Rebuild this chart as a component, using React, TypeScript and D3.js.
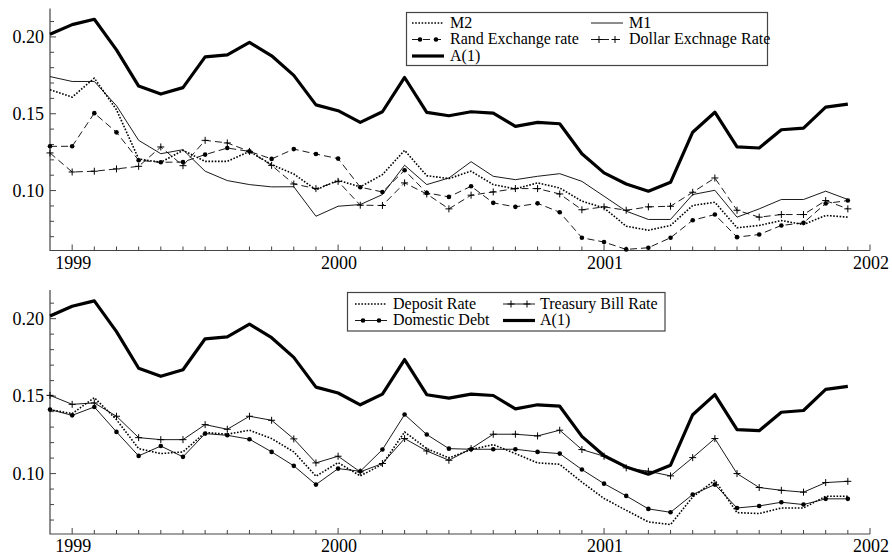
import React from "react";
import * as d3 from "d3";

// monthly observations, Dec 1998 .. Dec 2001 (decimal years)
const startYear = 1998 + 11 / 12;
const nObs = 37;
const times = d3.range(nObs).map((i) => startYear + i / 12);

const yearTicks = [1999, 2000, 2001, 2002];
const yMajor = [0.1, 0.15, 0.2];
const yMinor = [0.07, 0.08, 0.09, 0.1, 0.11, 0.12, 0.13, 0.14, 0.15, 0.16, 0.17, 0.18, 0.19, 0.2, 0.21];

const a1 = [0.2017, 0.208, 0.2115, 0.1916, 0.168, 0.1628, 0.167, 0.187, 0.1883, 0.1965, 0.1877, 0.175,
  0.1558, 0.152, 0.1444, 0.1513, 0.1736, 0.1509, 0.1487, 0.1513, 0.1504, 0.1418, 0.1444, 0.1435,
  0.1240, 0.1115, 0.1043, 0.0996, 0.1054, 0.138, 0.151, 0.1284, 0.1277, 0.1396, 0.1407, 0.1543, 0.1563];
const m1 = [0.1742, 0.171, 0.171, 0.1552, 0.1327, 0.124, 0.1266, 0.1126, 0.1065, 0.1039, 0.1024, 0.1025,
  0.0833, 0.0898, 0.0909, 0.0974, 0.1165, 0.1039, 0.1082, 0.1188, 0.1093, 0.1071, 0.1093, 0.111,
  0.106, 0.0963, 0.0866, 0.0812, 0.0812, 0.0974, 0.1002, 0.0827, 0.0881, 0.0942, 0.0942, 0.0996, 0.0942];
const m2 = [0.1656, 0.1608, 0.1732, 0.1526, 0.1206, 0.1184, 0.1262, 0.119, 0.119, 0.1255, 0.1169, 0.1108,
  0.1005, 0.1067, 0.1024, 0.1104, 0.1262, 0.1097, 0.1078, 0.1126, 0.1039, 0.1011, 0.105, 0.1017,
  0.0931, 0.0887, 0.0768, 0.0742, 0.0773, 0.0903, 0.0924, 0.0758, 0.0773, 0.0805, 0.0779, 0.0838, 0.0827];
const rand = [0.1288, 0.1288, 0.1504, 0.1379, 0.1197, 0.1184, 0.1186, 0.1234, 0.1277, 0.1255, 0.1206, 0.127,
  0.1238, 0.1208, 0.1022, 0.0991, 0.1132, 0.0985, 0.0959, 0.1028, 0.092, 0.0894, 0.0917, 0.0859,
  0.0693, 0.0665, 0.0617, 0.0628, 0.0693, 0.0807, 0.0844, 0.0697, 0.0714, 0.0773, 0.079, 0.0916, 0.0935];
const dollar = [0.1245, 0.1121, 0.1126, 0.1141, 0.1158, 0.1284, 0.1162, 0.1327, 0.131, 0.1255, 0.1164, 0.1043,
  0.1013, 0.106, 0.0905, 0.0903, 0.105, 0.0978, 0.0881, 0.097, 0.0991, 0.1013, 0.1013, 0.0978,
  0.0875, 0.0894, 0.0872, 0.0894, 0.0898, 0.0989, 0.1082, 0.0872, 0.0827, 0.0844, 0.0844, 0.0935, 0.0881];

const tbill = [0.1505, 0.1447, 0.1456, 0.137, 0.1232, 0.1219, 0.1219, 0.1316, 0.1286, 0.137, 0.1344, 0.1224,
  0.1069, 0.1112, 0.1011, 0.1065, 0.1226, 0.1146, 0.1086, 0.1161, 0.1254, 0.1254, 0.1243, 0.128,
  0.1155, 0.1112, 0.1037, 0.1015, 0.0985, 0.1103, 0.1226, 0.1, 0.091, 0.0892, 0.088, 0.0942, 0.095];
const debt = [0.1413, 0.1376, 0.143, 0.1269, 0.1114, 0.1178, 0.1108, 0.1258, 0.1247, 0.1222, 0.114, 0.105,
  0.0929, 0.1032, 0.1015, 0.1155, 0.1381, 0.1252, 0.1161, 0.1157, 0.1157, 0.1157, 0.114, 0.1129,
  0.1026, 0.0935, 0.0856, 0.0772, 0.075, 0.0865, 0.0929, 0.0778, 0.0791, 0.0815, 0.08, 0.0837, 0.0837];
const deposit = [0.1413, 0.1387, 0.149, 0.1348, 0.1161, 0.1129, 0.114, 0.1265, 0.1254, 0.128, 0.1226, 0.114,
  0.0983, 0.1071, 0.0985, 0.106, 0.1269, 0.1161, 0.1101, 0.1155, 0.1187, 0.1129, 0.1069, 0.106,
  0.0945, 0.0839, 0.0763, 0.0688, 0.0671, 0.0849, 0.0957, 0.0748, 0.0742, 0.0778, 0.0778, 0.0854, 0.0854];

type Marker = "none" | "dot" | "plus";
interface Series {
  name: string;
  values: number[];
  width: number;
  dash?: string;
  marker: Marker;
}

const dotted = "1.6,1.6";
const dashed = "7,4";

const topSeries: Series[] = [
  { name: "M2", values: m2, width: 1.6, dash: dotted, marker: "none" },
  { name: "M1", values: m1, width: 0.9, marker: "none" },
  { name: "Rand Exchange rate", values: rand, width: 0.9, dash: dashed, marker: "dot" },
  { name: "Dollar Exchnage Rate", values: dollar, width: 0.9, dash: dashed, marker: "plus" },
  { name: "A(1)", values: a1, width: 3.2, marker: "none" },
];
const bottomSeries: Series[] = [
  { name: "Deposit Rate", values: deposit, width: 1.6, dash: dotted, marker: "none" },
  { name: "Treasury Bill Rate", values: tbill, width: 0.9, marker: "plus" },
  { name: "Domestic Debt", values: debt, width: 0.9, marker: "dot" },
  { name: "A(1)", values: a1, width: 3.2, marker: "none" },
];

const FONT = '"Liberation Serif", "Tinos"';
const AX = "#444";
const textStyle = { fontFamily: FONT };

const x = d3.scaleLinear().domain([startYear, 2002]).range([50, 870]);
const yDomain: [number, number] = [0.061, 0.2185];

function MarkerShape({ kind, cx, cy }: { kind: Marker; cx: number; cy: number }) {
  if (kind === "dot") return <circle cx={cx} cy={cy} r={2.3} fill="#000" />;
  if (kind === "plus")
    return (
      <path
        d={`M${cx - 3.5},${cy}H${cx + 3.5}M${cx},${cy - 3.5}V${cy + 3.5}`}
        stroke="#000"
        strokeWidth={1}
        fill="none"
      />
    );
  return null;
}

interface LegendItem {
  s: Series;
  lx: number;
  tx: number;
  by: number;
}

function Panel({
  series,
  top,
  bottom,
  legendBox,
  legendItems,
}: {
  series: Series[];
  top: number;
  bottom: number;
  legendBox: [number, number, number, number];
  legendItems: LegendItem[];
}) {
  const y = d3.scaleLinear().domain(yDomain).range([bottom, top]);
  const line = d3
    .line<number>()
    .x((_, i) => x(times[i]))
    .y((d) => y(d));
  const monthTicks = d3.range(1, nObs + 1).map((i) => startYear + i / 12);
  return (
    <g>
      <path d={`M50,${top}V${bottom}H870`} stroke={AX} strokeWidth={1.2} fill="none" />
      {yMinor.map((v) => {
        const major = yMajor.some((m) => Math.abs(m - v) < 1e-6);
        return (
          <line key={"ym" + v} x1={50} x2={major ? 56 : 54} y1={y(v)} y2={y(v)} stroke={AX} strokeWidth={1} />
        );
      })}
      {yMajor.map((v) => (
        <text key={"yl" + v} x={44} y={y(v) + 6} textAnchor="end" style={textStyle} fontSize={18} fill="#000">
          {d3.format(".2f")(v)}
        </text>
      ))}
      {monthTicks.map((t, i) => {
        const major = yearTicks.some((yy) => Math.abs(yy - t) < 1e-6);
        return (
          <line key={"xm" + i} x1={x(t)} x2={x(t)} y1={bottom} y2={bottom - (major ? 6 : 4)} stroke={AX} strokeWidth={1} />
        );
      })}
      {yearTicks.map((yy) => (
        <text key={"xl" + yy} x={x(yy) + 1} y={bottom + 18} textAnchor="middle" style={textStyle} fontSize={18} fill="#000">
          {yy}
        </text>
      ))}
      {series.map((s) => (
        <g key={s.name}>
          <path
            d={line(s.values) || ""}
            fill="none"
            stroke="#000"
            strokeWidth={s.width}
            strokeDasharray={s.dash}
            strokeLinejoin="round"
          />
          {s.marker !== "none" &&
            s.values.map((v, i) => <MarkerShape key={i} kind={s.marker} cx={x(times[i])} cy={y(v)} />)}
        </g>
      ))}
      <rect
        x={legendBox[0]}
        y={legendBox[1]}
        width={legendBox[2] - legendBox[0]}
        height={legendBox[3] - legendBox[1]}
        fill="#fff"
        stroke={AX}
        strokeWidth={1.2}
      />
      {legendItems.map((it) => {
        const ly = it.by - 4.5;
        const x1 = it.lx;
        const x2 = it.lx + 32;
        return (
          <g key={it.s.name + it.tx}>
            <line x1={x1} x2={x2} y1={ly} y2={ly} stroke="#000" strokeWidth={it.s.width} strokeDasharray={it.s.dash} />
            {it.s.marker !== "none" && (
              <>
                <MarkerShape kind={it.s.marker} cx={x1 + 8} cy={ly} />
                <MarkerShape kind={it.s.marker} cx={x1 + 24} cy={ly} />
              </>
            )}
            <text x={it.tx} y={it.by} style={textStyle} fontSize={16} fill="#000">
              {it.s.name}
            </text>
          </g>
        );
      })}
    </g>
  );
}

export default function App() {
  const topLegend: LegendItem[] = [
    { s: topSeries[0], lx: 412, tx: 450, by: 27.5 },
    { s: topSeries[1], lx: 591, tx: 629, by: 27.5 },
    { s: topSeries[2], lx: 412, tx: 450, by: 44 },
    { s: topSeries[3], lx: 591, tx: 629, by: 44 },
    { s: topSeries[4], lx: 412, tx: 450, by: 60.5 },
  ];
  const bottomLegend: LegendItem[] = [
    { s: bottomSeries[0], lx: 355, tx: 393, by: 308.5 },
    { s: bottomSeries[1], lx: 503, tx: 540, by: 308.5 },
    { s: bottomSeries[2], lx: 355, tx: 393, by: 325 },
    { s: bottomSeries[3], lx: 503, tx: 540, by: 325 },
  ];
  return (
    <div style={{ position: "absolute", left: 0, top: 0 }}>
      <svg width={892} height={559} viewBox="0 0 892 559" style={{ display: "block", background: "#fff" }}>
        <Panel series={topSeries} top={8.5} bottom={250.5} legendBox={[406.5, 12.5, 767.5, 65.5]} legendItems={topLegend} />
        <Panel
          series={bottomSeries}
          top={290}
          bottom={534}
          legendBox={[347.5, 292.5, 665, 331]}
          legendItems={bottomLegend}
        />
      </svg>
    </div>
  );
}
